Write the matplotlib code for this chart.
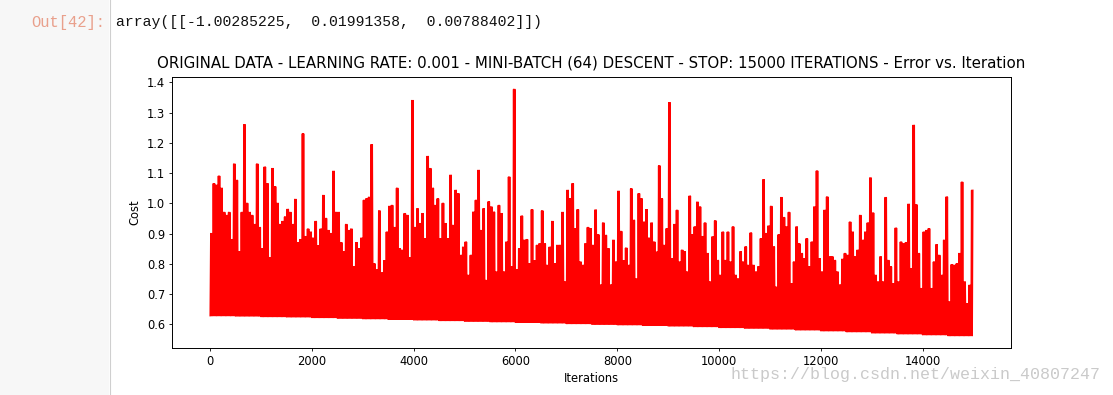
import matplotlib
matplotlib.use("Agg")
import matplotlib.pyplot as plt
from matplotlib.patches import Rectangle
from matplotlib.lines import Line2D

# === DATA ===
# top of the cost trace for every block of 50 iterations (300 blocks)
peaks = [
    0.90, 1.065, 1.06, 1.09, 1.05, 0.97, 0.96, 0.97, 0.88, 1.13,
    1.076, 0.84, 0.97, 1.26, 1.0, 0.97, 0.96, 0.93, 1.13, 0.92,
    0.85, 1.12, 1.065, 0.82, 1.115, 1.055, 1.0, 0.93, 0.94, 0.955,
    0.98, 0.97, 0.93, 1.013, 0.87, 0.88, 1.23, 0.89, 0.915, 0.905,
    0.885, 0.94, 0.86, 0.915, 1.026, 0.95, 0.91, 0.90, 1.106, 0.97,
    0.97, 0.87, 0.84, 0.93, 0.91, 0.915, 0.79, 0.87, 0.85, 0.885,
    1.01, 1.015, 1.02, 1.194, 0.80, 0.78, 0.975, 0.77, 0.81, 0.905,
    0.99, 0.993, 0.92, 1.05, 0.85, 0.845, 0.966, 0.96, 0.82, 1.34,
    0.92, 0.982, 0.933, 0.966, 0.883, 1.155, 1.115, 1.05, 0.993, 1.015,
    0.883, 1.0, 0.933, 0.883, 1.093, 0.927, 1.043, 1.032, 0.828, 0.855,
    0.872, 0.762, 0.828, 0.971, 1.01, 1.109, 0.91, 0.982, 0.745, 1.005,
    0.988, 0.971, 0.773, 0.993, 0.966, 0.773, 0.872, 1.087, 0.79, 1.377,
    0.78, 0.85,
    0.958, 0.878, 0.88, 0.80, 0.979, 0.81, 0.861, 0.866, 0.975, 0.866,
    0.795, 0.855, 0.94, 0.80, 0.861, 0.861, 0.97, 0.74, 1.043, 1.015,
    1.065, 0.916, 0.979, 0.806, 0.795, 0.866, 0.92, 0.916, 0.861, 0.978,
    0.896, 0.73, 0.935, 0.894, 0.85, 0.73, 0.878, 0.806, 1.04, 0.907,
    0.81, 0.852, 0.795, 1.048, 0.944, 0.75, 1.032, 1.015, 0.938, 0.979,
    0.885, 0.935, 0.872, 0.839, 1.124, 1.015, 0.861, 0.916, 1.333, 0.817,
    0.93, 0.977, 0.806,
    0.845, 0.84, 0.773, 1.024, 0.896, 0.922, 1.004, 0.988, 0.89, 0.935,
    0.834, 0.74, 0.889, 0.942, 0.811, 0.762, 0.905, 0.811, 0.905, 0.806,
    0.922, 0.762, 0.75, 0.84, 0.806, 0.856, 0.795, 0.902, 0.795, 0.773,
    0.79, 0.883, 1.078, 0.90, 0.925, 0.99, 0.856, 0.723, 0.896, 1.019,
    0.953, 0.922, 0.97, 0.734, 0.806, 0.922, 0.866, 0.834, 0.817, 0.883,
    0.79, 0.872, 0.988, 1.107, 0.817, 0.773, 0.977, 1.021, 0.823, 0.823,
    0.811, 0.773, 0.73,
    0.815, 0.834, 0.828, 0.938, 0.905, 0.823, 0.845, 0.96, 0.878, 0.905,
    0.935, 1.084, 0.968, 0.762, 0.74, 0.823, 0.74, 1.019, 0.811, 0.79,
    0.734, 0.918, 0.74, 0.872, 0.866, 0.87, 0.997, 0.784, 1.258, 0.995,
    0.834, 0.718, 0.905, 0.91, 0.916, 0.718, 0.806, 0.863, 0.828, 0.762,
    0.878, 1.021, 0.674, 0.797, 0.795, 0.80, 0.834, 1.07, 0.74, 0.668,
    0.729, 1.043,
]
# bottom of the trace for every 500 iterations
floors = [0.628, 0.627, 0.625, 0.624, 0.622, 0.620, 0.618, 0.616, 0.614, 0.612,
          0.610, 0.608, 0.606, 0.604, 0.602, 0.600, 0.598, 0.596, 0.594, 0.592,
          0.589, 0.587, 0.584, 0.581, 0.578, 0.575, 0.571, 0.568, 0.565, 0.562]

block = 50
x_ticks = [0, 2000, 4000, 6000, 8000, 10000, 12000, 14000]
y_ticks = [0.6, 0.7, 0.8, 0.9, 1.0, 1.1, 1.2, 1.3, 1.4]

# the trace drops to the floor and jumps up to the block top twice per block
iters, costs = [], []
for b, top in enumerate(peaks):
    low = floors[b * block // 500]
    for k in range(2):
        iters += [b * block + k * 25, b * block + k * 25 + 12]
        costs += [low, top]

# === FIGURE ===
W, H = 1113, 395
fig = plt.figure(figsize=(W / 100, H / 100), dpi=100)

# notebook chrome: prompt panel on the left
fig.add_artist(Rectangle((0, 0), 109 / W, 1, transform=fig.transFigure,
                         facecolor='#f7f7f7', edgecolor='none', zorder=0))
fig.add_artist(Line2D([109.5 / W, 109.5 / W], [0, 1], transform=fig.transFigure,
                      color='#cfcfcf', lw=0.8))
fig.text(105 / W, 1 - 22 / H, 'Out[42]:', ha='right', va='center',
         family='Liberation Mono', fontsize=11.2, color='#e9a08c')
fig.text(116 / W, 1 - 22 / H,
         'array([[-1.00285225,  0.01991358,  0.00788402]])',
         ha='left', va='center', family='Liberation Mono', fontsize=10.6,
         color='#111111')

ax = fig.add_axes([172 / W, 1 - 348 / H, 839 / W, 271 / H])
ax.plot(iters, costs, color='r', lw=1.0)

ax.set_xticks(x_ticks)
ax.set_yticks(y_ticks)
ax.tick_params(labelsize=8.3, length=2.5, width=0.6, pad=2.5)
for s in ax.spines.values():
    s.set_linewidth(0.7)
ax.set_title('ORIGINAL DATA - LEARNING RATE: 0.001 - MINI-BATCH (64) DESCENT'
             ' - STOP: 15000 ITERATIONS - Error vs. Iteration',
             fontsize=10.85, pad=6.5)
ax.set_xlabel('Iterations', fontsize=8.3, labelpad=3)
ax.set_ylabel('Cost', fontsize=8.3, labelpad=4)

fig.text(1100 / W, 1 - 375 / H, 'https://blog.csdn.net/weixin_40807247',
         ha='right', va='center', family='Liberation Mono', fontsize=12,
         color='#cacaca')

fig.savefig('out.png', dpi=100)
